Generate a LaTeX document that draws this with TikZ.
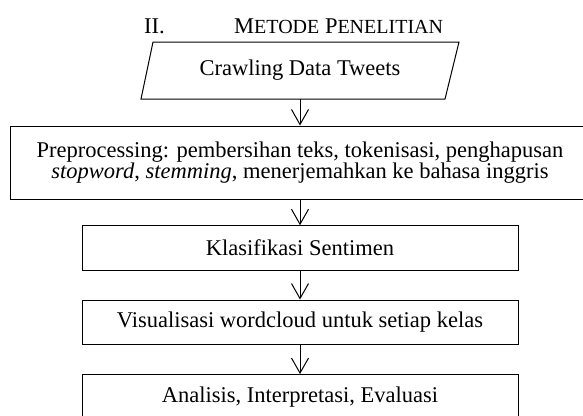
\documentclass[tikz,border=0pt]{standalone}
\usepackage{fontspec}
\setmainfont{Liberation Serif}
\usetikzlibrary{arrows.meta}
\newcommand{\smc}[1]{{\fontsize{20}{20}\selectfont #1}}
\tikzset{
  x=1pt, y=-1pt,
  every node/.style={font=\fontsize{22.5}{21.7}\selectfont, inner sep=0pt},
  procbox/.style={draw, line width=1pt, minimum width=436pt, minimum height=44.5pt},
  flowarrow/.style={line width=1pt, -{Straight Barb[length=15pt,width=17pt,line width=1pt]}}
}
\begin{document}
\begin{tikzpicture}
\clip (0,0) rectangle (583,415);
\fill[white] (0,0) rectangle (583,415);
% title
\node[anchor=base west] (num) at (144,33) {II.};
\node[anchor=base west] (title) at (234,33) {M\smc{ETODE} P\smc{ENELITIAN}};
% parallelogram
\draw[line width=1pt] (153,42) -- (459,42) -- (445,99) -- (141,99) -- cycle;
\node[minimum height=57pt, minimum width=280pt] (crawl) at (300,70.5) {Crawling Data Tweets};
% boxes
\node[draw, line width=1pt, minimum width=580pt, minimum height=73pt, align=center] (prep) at (300,162.5)
  {Preprocessing: pembersihan teks, tokenisasi, penghapusan\\ \textit{stopword}, \textit{stemming}, menerjemahkan ke bahasa inggris};
\node[procbox] (klas) at (300,248) {Klasifikasi Sentimen};
\node[procbox] (vis) at (300,322.3) {Visualisasi wordcloud untuk setiap kelas};
\node[procbox] (anal) at (300,396.8) {Analisis, Interpretasi, Evaluasi};
% arrows
\draw[flowarrow] (crawl.south) -- (prep.north);
\draw[flowarrow] (prep.south) -- (klas.north);
\draw[flowarrow] (klas.south) -- (vis.north);
\draw[flowarrow] (vis.south) -- (anal.north);
\end{tikzpicture}
\end{document}
